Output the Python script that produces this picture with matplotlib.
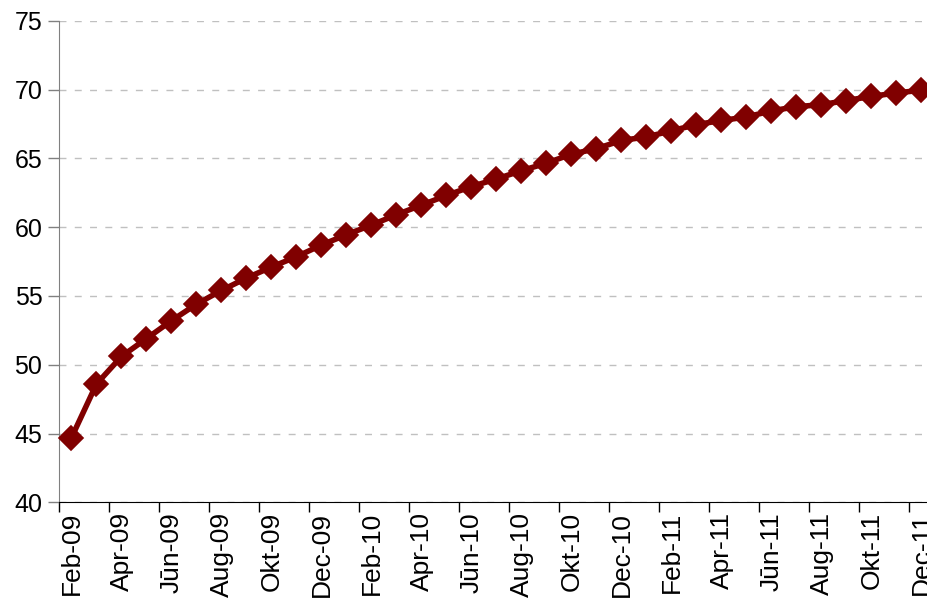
import numpy as np
import matplotlib
matplotlib.use("Agg")
import matplotlib.pyplot as plt

# monthly values Feb-09 .. Dec-11
months = ["Feb", "Mar", "Apr", "Mai", "Jūn", "Jūl", "Aug", "Sep", "Okt", "Nov", "Dec",
          "Jan", "Feb", "Mar", "Apr", "Mai", "Jūn", "Jūl", "Aug", "Sep", "Okt", "Nov", "Dec",
          "Jan", "Feb", "Mar", "Apr", "Mai", "Jūn", "Jūl", "Aug", "Sep", "Okt", "Nov", "Dec"]
years = ["09"] * 11 + ["10"] * 12 + ["11"] * 12
values = [44.7, 48.6, 50.6, 51.9, 53.2, 54.4, 55.4, 56.3, 57.1, 57.85, 58.7,
          59.45, 60.15, 60.9, 61.6, 62.3, 62.95, 63.5, 64.1, 64.65, 65.3, 65.7,
          66.3, 66.55, 67.0, 67.45, 67.75, 68.0, 68.45, 68.75, 68.9, 69.2, 69.5, 69.75, 69.95]
labels = [m + "-" + y for m, y in zip(months, years)]

plt.rcParams['font.family'] = ['Liberation Sans', 'DejaVu Sans']

fig = plt.figure(figsize=(9.28, 6.05), dpi=100)
ax = fig.add_axes([59 / 928, 102.7 / 605, 875 / 928, 481.6 / 605])

x = np.arange(len(values))
ax.plot(x, values, color="#800000", lw=4, marker="D", ms=12.5,
        mec="#800000", mew=1.2, zorder=3, clip_on=False)

ax.set_xlim(-0.5, len(values) - 0.5)
ax.set_ylim(40, 75)
ax.set_yticks(np.arange(40, 76, 5))
ax.yaxis.grid(True, color="#c0c0c0", ls=(0, (5, 6)), lw=1)
ax.set_axisbelow(True)

# boundary ticks every two months, labels on the category itself
ax.set_xticks(np.arange(-0.5, len(values), 2))
ax.set_xticklabels([])
ax.set_xticks(x[::2], minor=True)
ax.set_xticklabels(labels[::2], minor=True, rotation=90, fontsize=19)
ax.tick_params(axis="x", which="major", length=7, width=1, color="black", direction="out")
ax.tick_params(axis="x", which="minor", length=0, pad=7)
ax.tick_params(axis="y", length=8, width=1, color="#808080", labelsize=18, pad=4)

for s in ["top", "right"]:
    ax.spines[s].set_visible(False)
ax.spines["left"].set_color("#808080")
ax.spines["bottom"].set_color("black")

fig.savefig("out.png", dpi=100)
